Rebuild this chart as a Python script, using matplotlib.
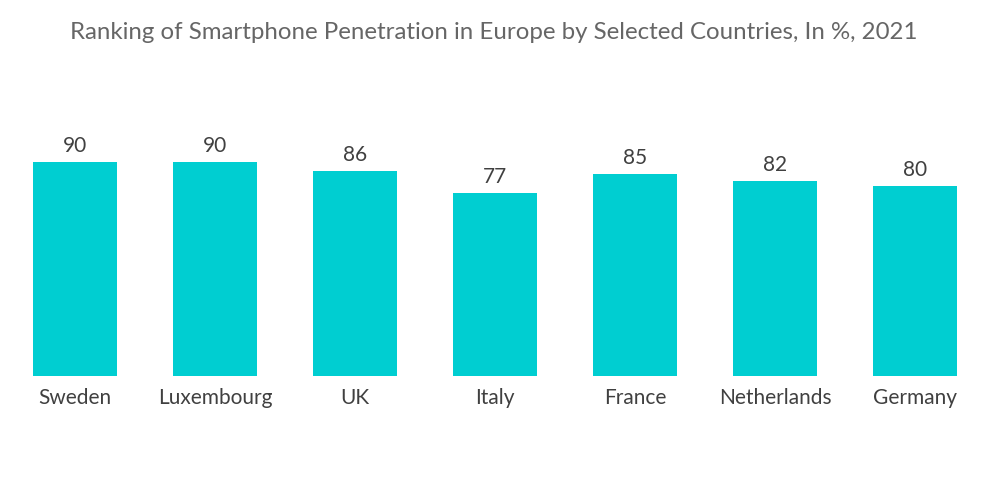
import matplotlib.pyplot as plt

countries = ["Sweden", "Luxembourg", "UK", "Italy", "France", "Netherlands", "Germany"]
penetration = [90, 90, 86, 77, 85, 82, 80]

plt.rcParams['font.family'] = ['Lato', 'DejaVu Sans']

fig = plt.figure(figsize=(10, 5.04), dpi=100)
ax = fig.add_axes([0.005, 0.254, 0.98, 0.4718])

bars = ax.bar(range(len(countries)), penetration, width=0.6, color="#00CED1")
ax.set_xlim(-0.5, len(countries) - 0.5)
ax.set_ylim(0, 100)

for rect, v in zip(bars, penetration):
    ax.text(rect.get_x() + rect.get_width() / 2, v + 2.6, str(v),
            ha="center", va="bottom", fontsize=15, color="#404040")

ax.set_xticks(range(len(countries)))
ax.set_xticklabels(countries, fontsize=15, color="#404040")
ax.tick_params(axis="x", length=0, pad=9)
ax.set_yticks([])
for s in ax.spines.values():
    s.set_visible(False)

fig.text(0.494, 0.935, "Ranking of Smartphone Penetration in Europe by Selected Countries, In %, 2021",
         ha="center", va="center", fontsize=17.3, color="#666666")

fig.savefig("out.png", dpi=100)
